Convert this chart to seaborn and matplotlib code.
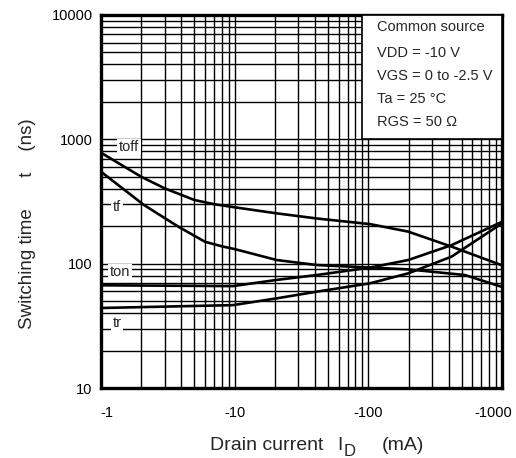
import matplotlib
matplotlib.use("Agg")
import matplotlib.pyplot as plt
import matplotlib.transforms as mtrans
import seaborn as sns
import pandas as pd
from matplotlib.patches import Rectangle

# Drain current |ID| (mA)
id_toff = [1, 2.0, 3.0, 5.0, 7.0, 10, 20.6, 41, 103, 199, 420, 1000]
t_off   = [780, 500, 403, 325, 301, 284, 254, 231, 208, 181, 137, 97]

id_tf = [1, 2.1, 3.8, 6.0, 8.0, 10, 20.6, 41, 103, 199, 528, 1000]
t_f   = [549, 296, 198, 150, 138, 131, 107, 97.5, 93, 90, 81, 65]

id_ton = [1, 9.7, 20.6, 41, 103, 199, 420, 1000]
t_on   = [67, 66, 74, 81, 93, 107, 141, 217]

id_tr = [1, 9.7, 20.6, 41, 103, 199, 420, 1000]
t_r   = [44, 46.4, 52.6, 59.5, 69.5, 83.6, 114, 211]

x_ticks = [1, 10, 100, 1000]
x_tick_labels = ["-1", "-10", "-100", "-1000"]
y_ticks = [10, 100, 1000, 10000]
y_tick_labels = ["10", "100", "1000", "10000"]

info_lines = ["Common source", "VDD = -10 V", "VGS = 0 to -2.5 V",
              "Ta = 25 °C", "RGS = 50 Ω"]

frames = []
for name, xs, ys in [("toff", id_toff, t_off), ("tf", id_tf, t_f),
                     ("ton", id_ton, t_on), ("tr", id_tr, t_r)]:
    frames.append(pd.DataFrame({"ID": xs, "t": ys, "curve": name}))
df = pd.concat(frames, ignore_index=True)

sns.set_style("white")
plt.rcParams["font.family"] = ["Liberation Sans", "DejaVu Sans"]

W, H = 516, 458
fig = plt.figure(figsize=(W/100, H/100), dpi=100)
ax = fig.add_axes([101/W, 1-388/H, 401/W, 373/H])
ax.set_axisbelow(True)

sns.lineplot(data=df, x="ID", y="t", units="curve", estimator=None,
             color="black", lw=1.9, ax=ax, sort=False, zorder=2)

ax.set_xscale("log")
ax.set_yscale("log")
ax.set_xlim(1, 1000)
ax.set_ylim(10, 10000)
ax.grid(which="both", color="black", lw=1.0)
ax.set_xticks(x_ticks)
ax.set_xticklabels(x_tick_labels)
ax.set_yticks(y_ticks)
ax.set_yticklabels(y_tick_labels)
ax.tick_params(which="both", length=0, labelsize=10.5, colors="black")
ax.tick_params(axis="x", pad=13)
ax.tick_params(axis="y", pad=6)
for s in ax.spines.values():
    s.set_visible(True)
    s.set_color("black")
    s.set_linewidth(2.4)

# nudge end tick labels inside the figure like the reference
xl = ax.get_xticklabels()
xl[0].set_horizontalalignment("left")
xl[0].set_transform(xl[0].get_transform() +
                    mtrans.ScaledTranslation(-1/100, 0, fig.dpi_scale_trans))
xl[-1].set_horizontalalignment("right")
xl[-1].set_transform(xl[-1].get_transform() +
                     mtrans.ScaledTranslation(10/100, 0, fig.dpi_scale_trans))

ax.set_xlabel("")
ax.set_ylabel("")

def fx(px):
    return px / W

def fy(py):
    return 1 - py / H

# x-axis label with large subscript
fig.text(fx(210), fy(446), "Drain current", fontsize=14, ha="left", va="center")
fig.text(fx(337), fy(446), "I", fontsize=14, ha="left", va="center")
fig.text(fx(344), fy(451), "D", fontsize=12, ha="left", va="center")
fig.text(fx(382), fy(446), "(mA)", fontsize=14, ha="left", va="center")

# y-axis label
fig.text(fx(27.5), fy(224), "Switching time      t    (ns)", fontsize=13.5,
         rotation=90, ha="center", va="center")

# info box
ax.add_patch(Rectangle((0.651, 0.668), 0.349, 0.332, transform=ax.transAxes,
                       facecolor="white", edgecolor="black", lw=1.2, zorder=3))
ys_txt = [0.968, 0.898, 0.836, 0.775, 0.713]
for t, yy in zip(info_lines, ys_txt):
    ax.text(0.688, yy, t, transform=ax.transAxes, fontsize=10.5,
            va="center", ha="left", zorder=4)

# curve labels
bb = dict(facecolor="white", edgecolor="none", pad=1.0)
for txt, px, py in [("toff", 129, 147), ("tf", 117, 207),
                    ("ton", 120, 272), ("tr", 117, 323)]:
    ax.text((px-101)/401, (388-py)/373, txt, transform=ax.transAxes,
            fontsize=10.5, ha="center", va="center", bbox=bb, zorder=3)

fig.savefig("out.png", dpi=100)
